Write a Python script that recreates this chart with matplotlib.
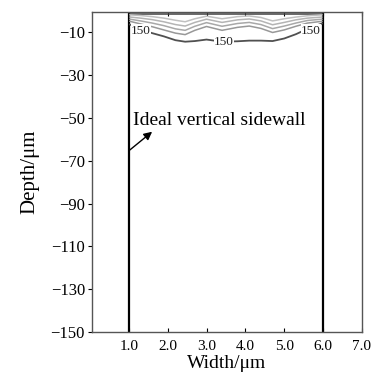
import matplotlib
matplotlib.use("Agg")
import matplotlib.pyplot as plt

plt.rcParams['font.family'] = ['Liberation Serif', 'DejaVu Serif']

# Ideal vertical sidewalls (x positions, µm)
sidewall_x = [1.0, 6.0]

# Etch-front contour lines near the surface (x in µm, depth in µm)
cx = [1.03, 1.3, 1.6, 1.9, 2.2, 2.45, 2.7, 3.0, 3.4, 3.8, 4.1, 4.4, 4.7, 5.0, 5.3, 5.6, 5.97]
c_top = [-1.5] * len(cx)
c1 = [-2.0, -2.3, -2.8, -3.5, -4.5, -5.2, -3.8, -2.6, -3.8, -2.8, -2.5, -3.2, -4.8, -3.8, -3.0, -2.4, -2.0]
c2 = [-3.0, -3.5, -4.2, -5.2, -6.5, -7.2, -5.5, -4.0, -5.5, -4.3, -3.9, -4.8, -6.6, -5.5, -4.3, -3.5, -3.0]
c3 = [-4.0, -4.8, -5.8, -7.0, -8.5, -9.2, -7.3, -5.6, -7.3, -6.0, -5.5, -6.5, -8.4, -7.2, -5.8, -4.6, -4.0]
c4 = [-5.0, -6.2, -7.5, -9.0, -10.5, -11.2, -9.2, -7.4, -9.2, -7.8, -7.2, -8.3, -10.2, -9.0, -7.3, -5.8, -5.0]
c_outer = [-6.5, -8.8, -10.5, -12.0, -13.8, -14.5, -14.2, -13.5, -14.5, -14.3, -14.0, -14.0, -14.2, -13.0, -11.0, -8.5, -6.0]

label_x = [1.31, 3.45, 5.68]
label_y = [-9.3, -14.5, -9.3]
label_text = "150"

xticks = [1.0, 2.0, 3.0, 4.0, 5.0, 6.0, 7.0]
yticks = [-10, -30, -50, -70, -90, -110, -130, -150]

fig = plt.figure(figsize=(3.72, 3.84), dpi=100)
ax = fig.add_axes([0.247, 0.135, 0.726, 0.834])

for xv in sidewall_x:
    ax.axvline(xv, color='black', lw=1.6)

ax.plot(cx, c_top, color='#404040', lw=1.1)
for c, col in zip([c1, c2, c3, c4], ['#c0c0c0', '#b4b4b4', '#a8a8a8', '#989898']):
    ax.plot(cx, c, color=col, lw=1.1)
ax.plot(cx, c_outer, color='#505050', lw=1.3)

for lx, ly in zip(label_x, label_y):
    ax.text(lx, ly, label_text, fontsize=9.5, ha='center', va='center', color='#222222',
            bbox=dict(facecolor='white', edgecolor='none', pad=0.1))

ax.text(1.1, -51.4, "Ideal vertical sidewall", fontsize=14, ha='left', va='center')
ax.annotate('', xy=(1.6, -56.5), xytext=(1.0, -65.4),
            arrowprops=dict(arrowstyle='-|>', color='black', lw=1.0, mutation_scale=12,
                            shrinkA=0, shrinkB=0))

ax.set_xlim(0.05, 7.0)
ax.set_ylim(-150, -0.6)
ax.set_xticks(xticks)
ax.set_xticklabels([f"{v:.1f}" for v in xticks])
ax.set_yticks(yticks)
ax.set_yticklabels([f"\u2212{abs(v)}" for v in yticks])
ax.tick_params(axis='x', direction='in', top=True, labelsize=11, length=3, pad=6)
ax.tick_params(axis='y', direction='out', right=False, labelsize=12, length=3, pad=2)
for s in ax.spines.values():
    s.set_color('#555555')
    s.set_linewidth(1.0)

ax.set_xlabel("Width/\u03bcm", fontsize=14, labelpad=1)
ax.set_ylabel("Depth/\u03bcm", fontsize=15, labelpad=8)

fig.savefig("out.png", dpi=100)
